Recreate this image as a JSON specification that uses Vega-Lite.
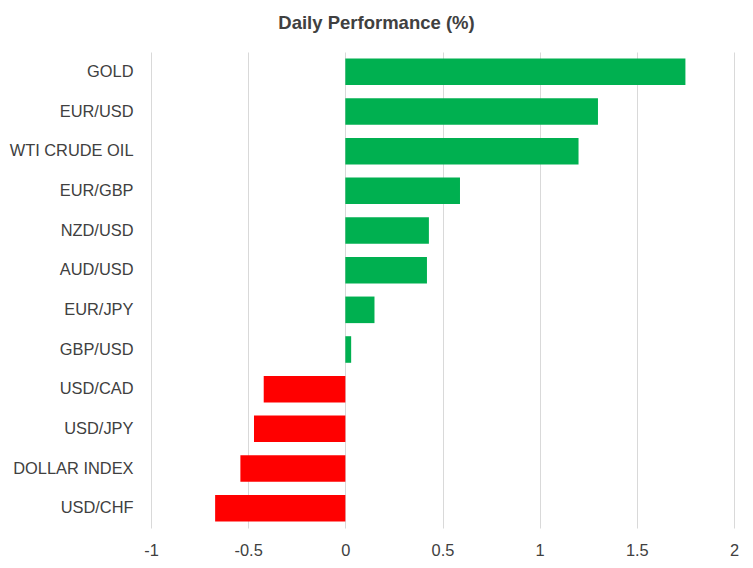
{
  "$schema": "https://vega.github.io/schema/vega-lite/v6.json",
  "autosize": "none",
  "width": 583,
  "height": 476,
  "padding": {"left": 151, "top": 52, "right": 19, "bottom": 40},
  "background": "white",
  "title": {
    "text": "Daily Performance (%)",
    "font": "Liberation Sans",
    "fontSize": 18.5,
    "fontWeight": "bold",
    "color": "#404040",
    "anchor": "middle",
    "dx": -66,
    "offset": 20
  },
  "data": {
    "values": [
      {"asset": "GOLD", "change": 1.75},
      {"asset": "EUR/USD", "change": 1.30},
      {"asset": "WTI CRUDE OIL", "change": 1.20},
      {"asset": "EUR/GBP", "change": 0.59},
      {"asset": "NZD/USD", "change": 0.43},
      {"asset": "AUD/USD", "change": 0.42},
      {"asset": "EUR/JPY", "change": 0.15},
      {"asset": "GBP/USD", "change": 0.03},
      {"asset": "USD/CAD", "change": -0.42},
      {"asset": "USD/JPY", "change": -0.47},
      {"asset": "DOLLAR INDEX", "change": -0.54},
      {"asset": "USD/CHF", "change": -0.67}
    ]
  },
  "mark": {"type": "bar"},
  "encoding": {
    "y": {
      "field": "asset",
      "type": "nominal",
      "sort": null,
      "scale": {"paddingInner": 0.33, "paddingOuter": 0.165},
      "axis": {
        "title": null,
        "domain": false,
        "ticks": false,
        "grid": false,
        "labelPadding": 18,
        "labelFont": "Liberation Sans",
        "labelFontSize": 16.4,
        "labelColor": "#404040"
      }
    },
    "x": {
      "field": "change",
      "type": "quantitative",
      "scale": {"domain": [-1, 2], "nice": false, "zero": false},
      "axis": {
        "title": null,
        "values": [-1, -0.5, 0, 0.5, 1, 1.5, 2],
        "labelExpr": "toString(datum.value)",
        "domain": false,
        "ticks": false,
        "grid": true,
        "gridColor": "#d9d9d9",
        "gridWidth": 1,
        "labelPadding": 14,
        "labelFont": "Liberation Sans",
        "labelFontSize": 16.4,
        "labelColor": "#404040",
        "labelFlush": false
      }
    },
    "color": {
      "condition": {"test": "datum.change >= 0", "value": "#00B050"},
      "value": "#FF0000"
    }
  },
  "config": {"view": {"stroke": null}}
}
